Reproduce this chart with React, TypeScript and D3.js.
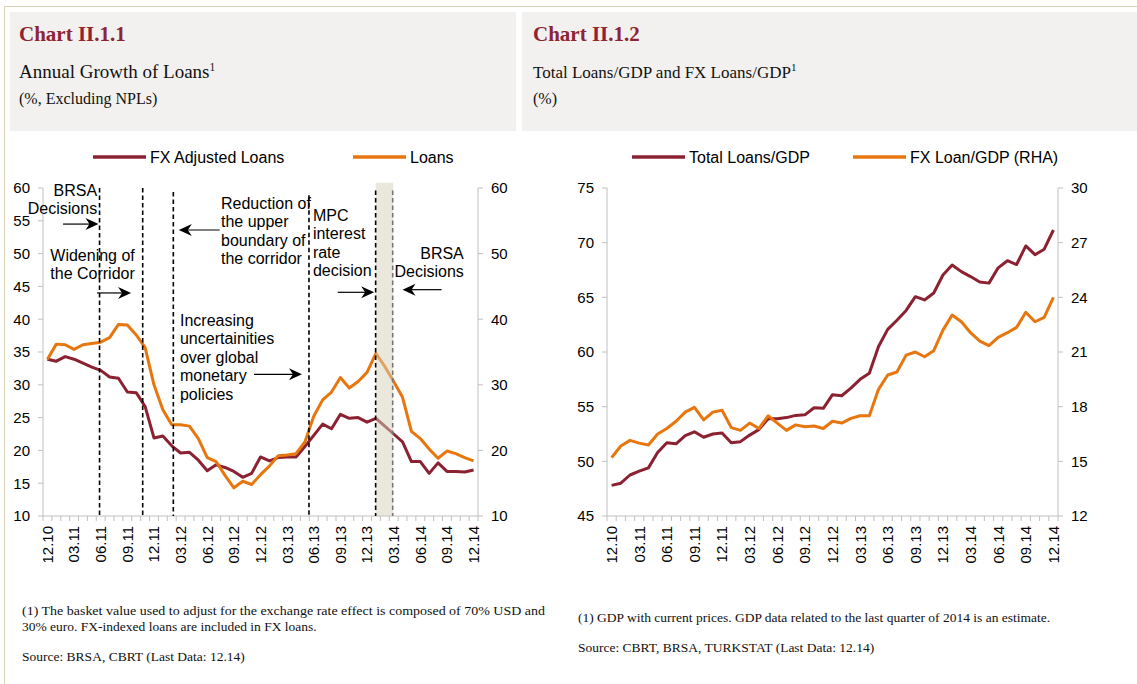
import React from "react";
import * as d3 from "d3";

// monthly categories, 12.10 .. 12.14
const months = [
  "12.10", "01.11", "02.11", "03.11", "04.11", "05.11", "06.11", "07.11", "08.11", "09.11", "10.11", "11.11", "12.11",
  "01.12", "02.12", "03.12", "04.12", "05.12", "06.12", "07.12", "08.12", "09.12", "10.12", "11.12", "12.12",
  "01.13", "02.13", "03.13", "04.13", "05.13", "06.13", "07.13", "08.13", "09.13", "10.13", "11.13", "12.13",
  "01.14", "02.14", "03.14", "04.14", "05.14", "06.14", "07.14", "08.14", "09.14", "10.14", "11.14", "12.14",
];
const tickMonths = ["12.10", "03.11", "06.11", "09.11", "12.11", "03.12", "06.12", "09.12", "12.12",
  "03.13", "06.13", "09.13", "12.13", "03.14", "06.14", "09.14", "12.14"];

// Chart II.1.1 (annual growth, %)
const fxAdjustedLoans = [
  33.9, 33.6, 34.3, 33.9, 33.3, 32.7, 32.2, 31.2, 31.0, 28.9, 28.8, 26.7, 21.9,
  22.2, 20.7, 19.6, 19.7, 18.5, 16.9, 17.8, 17.4, 16.8, 15.9, 16.5, 19.0,
  18.4, 18.9, 19.0, 19.0, 20.6, 22.3, 24.0, 23.3, 25.5, 24.9, 25.0, 24.3,
  24.9, 23.7, 22.5, 21.3, 18.3, 18.3, 16.5, 18.1, 16.8, 16.8, 16.7, 17.0,
];
const loans = [
  33.9, 36.2, 36.1, 35.4, 36.1, 36.3, 36.5, 37.2, 39.2, 39.1, 37.6, 35.7, 30.0,
  26.2, 23.9, 23.9, 23.7, 21.8, 18.9, 18.3, 16.2, 14.3, 15.3, 14.8, 16.3,
  17.6, 19.2, 19.3, 19.5, 21.3, 25.2, 27.7, 28.9, 31.1, 29.5, 30.5, 31.9,
  34.8, 32.8, 30.5, 28.1, 22.9, 21.8, 20.2, 18.8, 19.9, 19.5, 18.9, 18.4,
];
const growthTicks = [10, 15, 20, 25, 30, 35, 40, 45, 50, 55, 60];
const growthTicksRight = [10, 20, 30, 40, 50, 60];

// Chart II.1.2 (% of GDP)
const totalLoansGdp = [
  47.8, 48.0, 48.75, 49.1, 49.4, 50.8, 51.7, 51.6, 52.35, 52.7, 52.2, 52.5, 52.6,
  51.7, 51.8, 52.4, 52.9, 53.9, 53.9, 54.0, 54.2, 54.25, 54.9, 54.85, 56.1,
  56.0, 56.7, 57.5, 58.05, 60.5, 62.07, 62.9, 63.8, 65.06, 64.76, 65.4, 67.04,
  67.96, 67.35, 66.9, 66.4, 66.3, 67.7, 68.35, 68.0, 69.7, 68.9, 69.4, 71.16,
];
const fxLoansGdp = [
  15.2, 15.84, 16.15, 16.0, 15.9, 16.5, 16.8, 17.2, 17.7, 17.96, 17.27, 17.7, 17.8,
  16.85, 16.7, 17.1, 16.8, 17.5, 17.1, 16.7, 17.0, 16.9, 16.94, 16.8, 17.2,
  17.1, 17.36, 17.5, 17.5, 18.95, 19.74, 19.9, 20.83, 21.0, 20.74, 21.07, 22.2,
  23.03, 22.66, 22.06, 21.6, 21.35, 21.8, 22.06, 22.35, 23.18, 22.66, 22.9, 24.0,
];
const gdpTicks = [45, 50, 55, 60, 65, 70, 75];
const gdpTicksRight = [12, 15, 18, 21, 24, 27, 30];

// policy events on chart II.1.1 (position in months index, top value)
const eventLines = [
  { at: 5.87, top: 60, color: "#000" },
  { at: 10.73, top: 60, color: "#000" },
  { at: 14.18, top: 59.4, color: "#000" },
  { at: 29.46, top: 58.9, color: "#000" },
  { at: 36.97, top: 59.6, color: "#000" },
  { at: 38.89, top: 59.6, color: "#777" },
];
const shadedPeriod = [36.97, 38.95];
const arrows = [
  { from: 1.76, to: 5.75, y: 54.5 },
  { from: 5.59, to: 9.42, y: 44.0 },
  { from: 19.4, to: 14.8, y: 53.6 },
  { from: 23.27, to: 28.67, y: 31.6 },
  { from: 32.7, to: 36.8, y: 44.1 },
  { from: 44.4, to: 40.0, y: 44.5 },
];
const notes = [
  { at: 5.6, y: 58.8, anchor: "end", lines: ["BRSA", "Decisions"] },
  { at: 5.08, y: 48.9, anchor: "middle", lines: ["Widening of", "the Corridor"] },
  { at: 19.55, y: 56.8, anchor: "start", lines: ["Reduction of", "the upper", "boundary of", "the corridor"] },
  { at: 29.9, y: 55.0, anchor: "start", lines: ["MPC", "interest", "rate", "decision"] },
  { at: 46.9, y: 49.2, anchor: "end", lines: ["BRSA", "Decisions"] },
  { at: 14.93, y: 39.0, anchor: "start", lines: ["Increasing", "uncertainities", "over global", "monetary", "policies"] },
];

const RED = "#8C2132";
const ORANGE = "#E8760F";
const AXIS = "#C0C0C0";
const SANS = "'Liberation Sans', Arial, sans-serif";
const SERIF = "'Liberation Serif', 'Times New Roman', serif";

function LineChart({ x0, x1, y0, y1, leftDomain, rightDomain, leftTicks, rightTicks, series, legend, children }) {
  const x = d3.scaleLinear().domain([-0.5, months.length - 0.5]).range([x0, x1]);
  const yL = d3.scaleLinear().domain(leftDomain).range([y0, y1]);
  const yR = d3.scaleLinear().domain(rightDomain).range([y0, y1]);
  const bounds = d3.range(-0.5, months.length, 1);

  return (
    <g fontFamily={SANS}>
      {/* legend */}
      {legend.map(l => (
        <g key={l.label}>
          <line x1={l.x} x2={l.x + 53} y1={157} y2={157} stroke={l.color} strokeWidth={3.5} />
          <text x={l.x + 57} y={162.5} fontSize={16} fill="#000">{l.label}</text>
        </g>
      ))}

      {/* axes */}
      <line x1={x0} x2={x0} y1={y1} y2={y0} stroke={AXIS} />
      <line x1={x1} x2={x1} y1={y1} y2={y0} stroke={AXIS} />
      <line x1={x0} x2={x1} y1={y0} y2={y0} stroke={AXIS} />
      {leftTicks.map(t => (
        <g key={"l" + t}>
          <line x1={x0 - 5} x2={x0} y1={yL(t)} y2={yL(t)} stroke={AXIS} />
          <text x={x0 - 13} y={yL(t)} dy="0.36em" textAnchor="end" fontSize={15}>{t}</text>
        </g>
      ))}
      {rightTicks.map(t => (
        <g key={"r" + t}>
          <line x1={x1} x2={x1 + 5} y1={yR(t)} y2={yR(t)} stroke={AXIS} />
          <text x={x1 + 13} y={yR(t)} dy="0.36em" textAnchor="start" fontSize={15}>{t}</text>
        </g>
      ))}
      {bounds.map(b => (
        <line key={"b" + b} x1={x(b)} x2={x(b)} y1={y0} y2={y0 + 5} stroke={AXIS} />
      ))}
      {tickMonths.map(m => {
        const i = months.indexOf(m);
        return (
          <text key={m} transform={`translate(${x(i)},${y0 + 10}) rotate(-90)`} textAnchor="end"
            dy="0.36em" fontSize={15}>{m}</text>
        );
      })}

      {/* series */}
      {series.map(s => {
        const y = s.axis === "right" ? yR : yL;
        const line = d3.line<number>().x((_, i) => x(i)).y(v => y(v));
        return <path key={s.name} d={line(s.values) || ""} fill="none" stroke={s.color}
          strokeWidth={3} strokeLinejoin="round" />;
      })}
      {children && children(x, yL)}
    </g>
  );
}

function Events(x, y) {
  return (
    <g>
      <rect x={x(shadedPeriod[0])} width={x(shadedPeriod[1]) - x(shadedPeriod[0])}
        y={y(60.8)} height={y(10) - y(60.8)} fill="#D6D1BC" opacity={0.5} />
      {eventLines.map(e => (
        <line key={e.at} x1={x(e.at)} x2={x(e.at)} y1={y(e.top)} y2={y(10)}
          stroke={e.color} strokeWidth={1.6} strokeDasharray="4.5,3" />
      ))}
      {arrows.map((a, k) => {
        const dir = a.to > a.from ? 1 : -1;
        const tx = x(a.to), ty = y(a.y);
        return (
          <g key={k}>
            <line x1={x(a.from)} x2={tx - dir * 8} y1={ty} y2={ty} stroke="#000" strokeWidth={1.2} />
            <path d={`M${tx},${ty} L${tx - dir * 13},${ty - 6} L${tx - dir * 9},${ty} L${tx - dir * 13},${ty + 6} Z`}
              fill="#000" />
          </g>
        );
      })}
      {notes.map((n, k) => (
        <text key={k} x={x(n.at)} y={y(n.y)} textAnchor={n.anchor} fontSize={16} fill="#000">
          {n.lines.map((l, j) => (
            <tspan key={j} x={x(n.at)} dy={j === 0 ? 0 : 18.5}>{l}</tspan>
          ))}
        </text>
      ))}
    </g>
  );
}

export default function App() {
  return (
    <svg width={1137} height={684} style={{ position: "absolute", left: 0, top: 0, background: "#fff" }}>
      {/* page frame */}
      <path d="M4.5,684 L4.5,6.5 L1137,6.5" fill="none" stroke="#D9CFB2" strokeWidth={1} />

      {/* headers */}
      <rect x={10} y={12} width={506} height={119} fill="#F2F1EF" />
      <rect x={522} y={12} width={615} height={119} fill="#F2F1EF" />
      <g fontFamily={SERIF}>
        <text x={19} y={41} fontSize={21} fontWeight="bold" fill="#8E2433">Chart II.1.1</text>
        <text x={19} y={78} fontSize={19} fill="#111">Annual Growth of Loans<tspan fontSize={11.5} dy={-7}>1</tspan></text>
        <text x={19} y={104} fontSize={16} fill="#111">(%, Excluding NPLs)</text>
        <text x={533} y={41} fontSize={21} fontWeight="bold" fill="#8E2433">Chart II.1.2</text>
        <text x={533} y={78} fontSize={17} fill="#111">Total Loans/GDP and FX Loans/GDP<tspan fontSize={11} dy={-7}>1</tspan></text>
        <text x={533} y={104} fontSize={16} fill="#111">(%)</text>
      </g>

      <LineChart x0={43} x1={478} y0={516} y1={188} leftDomain={[10, 60]} rightDomain={[10, 60]}
        leftTicks={growthTicks} rightTicks={growthTicksRight}
        series={[
          { name: "FX Adjusted Loans", values: fxAdjustedLoans, color: RED, axis: "left" },
          { name: "Loans", values: loans, color: ORANGE, axis: "left" },
        ]}
        legend={[
          { label: "FX Adjusted Loans", color: RED, x: 93 },
          { label: "Loans", color: ORANGE, x: 353 },
        ]}>
        {Events}
      </LineChart>

      <LineChart x0={607} x1={1058} y0={516} y1={188} leftDomain={[45, 75]} rightDomain={[12, 30]}
        leftTicks={gdpTicks} rightTicks={gdpTicksRight}
        series={[
          { name: "Total Loans/GDP", values: totalLoansGdp, color: RED, axis: "left" },
          { name: "FX Loan/GDP (RHA)", values: fxLoansGdp, color: ORANGE, axis: "right" },
        ]}
        legend={[
          { label: "Total Loans/GDP", color: RED, x: 632 },
          { label: "FX Loan/GDP (RHA)", color: ORANGE, x: 853 },
        ]} />

      {/* footnotes */}
      <g fontFamily={SERIF} fontSize={13.5} fill="#111">
        <text x={22} y={615} textLength={523} lengthAdjust="spacingAndGlyphs">(1) The basket value used to adjust for the exchange rate effect is composed of 70% USD and</text>
        <text x={22} y={631}>30% euro. FX-indexed loans are included in FX loans.</text>
        <text x={22} y={661}>Source: BRSA, CBRT (Last Data: 12.14)</text>
        <text x={578} y={622}>(1) GDP with current prices. GDP data related to the last quarter of 2014 is an estimate.</text>
        <text x={578} y={652}>Source: CBRT, BRSA, TURKSTAT (Last Data: 12.14)</text>
      </g>
    </svg>
  );
}
